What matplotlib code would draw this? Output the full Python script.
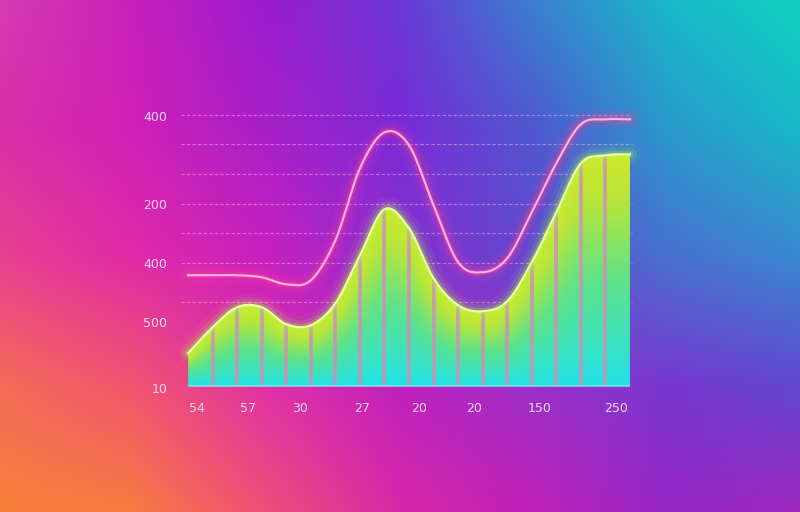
import numpy as np
import matplotlib.pyplot as plt
from matplotlib.colors import to_rgb, LinearSegmentedColormap
from matplotlib.patches import Polygon

# Данные графика
bar_edges = np.arange(19)
green_vals = [33, 59, 79, 79, 62, 61, 83, 131, 177, 158, 108, 81, 75, 85, 124, 174, 223, 231, 232]
pink_vals = [111, 111, 111, 109, 102, 106, 146, 218, 254, 241, 181, 124, 114, 128, 174, 223, 262, 267, 267]
ytick_pos = [270, 182, 123, 64, -2]
ytick_labels = ['400', '200', '400', '500', '10']
xtick_pos = [0.37, 2.44, 4.56, 7.08, 9.4, 11.65, 14.33, 17.43]
xtick_labels = ['54', '57', '30', '27', '20', '20', '150', '250']
grid_levels = [271, 242, 212, 182, 153, 123, 84]

# Цвета фона (сетка опорных цветов, потом билинейная интерполяция)
bg_x = [0, 133, 267, 400, 533, 667, 800]
bg_y = [0, 128, 256, 384, 512]
bg_rows = [
    ['#d83ab0', '#c820bc', '#9a1cd0', '#6a38d8', '#3a80d0', '#18b8c8', '#10d0c0'],
    ['#d830a8', '#d020b8', '#a820c8', '#7a2ad8', '#5058d0', '#2a98cc', '#18b8c8'],
    ['#e84090', '#e02aa8', '#c820c0', '#8a30d0', '#6048d0', '#4a70d0', '#3a88d0'],
    ['#f46a58', '#f05470', '#e030a8', '#c020c0', '#9a30c8', '#7838d0', '#6048d0'],
    ['#f88038', '#f87a40', '#ee4e78', '#d828a8', '#c020b8', '#9828c8', '#a028c0'],
]


def smooth(x, y, n=24):
    # Catmull-Rom сглаживание для отрисовки
    x = np.asarray(x, float)
    y = np.asarray(y, float)
    px = np.concatenate([[2 * x[0] - x[1]], x, [2 * x[-1] - x[-2]]])
    py = np.concatenate([[2 * y[0] - y[1]], y, [2 * y[-1] - y[-2]]])
    t = np.linspace(0, 1, n, endpoint=False)
    xs, ys = [], []
    for i in range(1, len(px) - 2):
        for arr, out in ((px, xs), (py, ys)):
            p0, p1, p2, p3 = arr[i - 1:i + 3]
            out.append(0.5 * (2 * p1 + (-p0 + p2) * t
                              + (2 * p0 - 5 * p1 + 4 * p2 - p3) * t ** 2
                              + (-p0 + 3 * p1 - 3 * p2 + p3) * t ** 3))
    xs.append([x[-1]])
    ys.append([y[-1]])
    return np.concatenate(xs), np.concatenate(ys)


fig = plt.figure(figsize=(8, 5.12), dpi=100)

# Фон
grid = np.array([[to_rgb(c) for c in row] for row in bg_rows])
xs_bg = np.linspace(0, 800, 400)
ys_bg = np.linspace(0, 512, 256)
tmp = np.zeros((len(bg_y), len(xs_bg), 3))
for r in range(len(bg_y)):
    for ch in range(3):
        tmp[r, :, ch] = np.interp(xs_bg, bg_x, grid[r, :, ch])
bg_img = np.zeros((len(ys_bg), len(xs_bg), 3))
for j in range(len(xs_bg)):
    for ch in range(3):
        bg_img[:, j, ch] = np.interp(ys_bg, bg_y, tmp[:, j, ch])
bg = fig.add_axes([0, 0, 1, 1])
bg.imshow(bg_img, extent=[0, 1, 0, 1], aspect='auto', interpolation='bilinear')
bg.axis('off')

ax = fig.add_axes([0.225, 0.234, 0.575, 0.570])
ax.set_facecolor('none')
ax.set_xlim(-0.33, 18.41)
ax.set_ylim(-6, 286)

# Пунктирная сетка
ax.hlines(grid_levels, -0.3, 18.1, colors='#f4b0e8', linewidth=0.8,
          linestyles=(0, (3, 2)), alpha=0.55, zorder=1)

gx, gy = smooth(bar_edges, green_vals)
px_, py_ = smooth(bar_edges, pink_vals)

# Заливка под зелёной кривой с градиентом
W, H = 600, 300
cols = np.linspace(0, 18, W)
rows = np.linspace(0, 240, H)
tops = np.interp(cols, gx, gy)
ratio = np.clip(rows[:, None] / tops[None, :], 0, 1)
cmap = LinearSegmentedColormap.from_list('bars', [(0, '#22e2e6'), (0.45, '#5ee28a'),
                                                  (0.8, '#b6e63a'), (1, '#d2e62a')])
poly = Polygon(np.column_stack([np.concatenate([gx, [18, 0]]),
                                np.concatenate([gy, [0, 0]])]),
               closed=True, facecolor='none', edgecolor='none')
ax.add_patch(poly)
im = ax.imshow(cmap(ratio), extent=[0, 18, 0, 240], origin='lower',
               aspect='auto', zorder=2)
im.set_clip_path(poly)

# Разделители столбцов
ax.vlines(bar_edges[1:-1], 0, np.array(green_vals[1:-1]) - 1, colors='#c894b8',
          linewidth=2.6, alpha=0.9, zorder=3)
ax.hlines(0, 0, 18, colors='#80fff0', linewidth=1.5, alpha=0.6, zorder=3)

# Свечение зелёной кривой
for lw, a in [(16, 0.06), (10, 0.12), (5, 0.25)]:
    ax.plot(gx, gy, color='#b0ff50', linewidth=lw, alpha=a, solid_capstyle='round', zorder=4)
ax.plot(gx, gy, color='#e8ffa0', linewidth=1.6, zorder=5)

# Свечение розовой кривой
for lw, a in [(16, 0.06), (10, 0.12), (5, 0.3)]:
    ax.plot(px_, py_, color='#ff3fa0', linewidth=lw, alpha=a, solid_capstyle='round', zorder=4)
ax.plot(px_, py_, color='#ffb0d8', linewidth=1.6, zorder=5)

ax.set_yticks(ytick_pos)
ax.set_yticklabels(ytick_labels)
ax.set_xticks(xtick_pos)
ax.set_xticklabels(xtick_labels)
ax.tick_params(length=0, labelcolor='#f8d8f4', labelsize=9)
ax.tick_params(axis='y', pad=9)
ax.tick_params(axis='x', pad=7)
for s in ax.spines.values():
    s.set_visible(False)

fig.savefig('out.png', dpi=100)
